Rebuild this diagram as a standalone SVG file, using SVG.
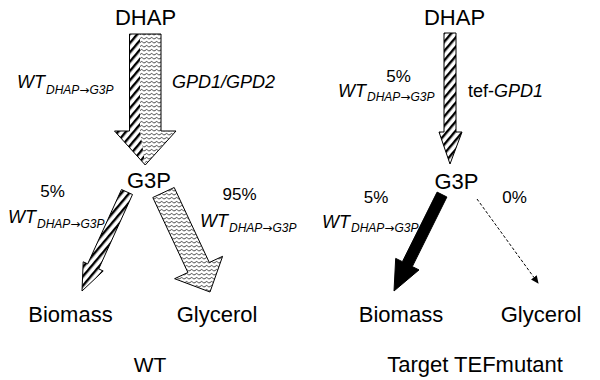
<svg xmlns="http://www.w3.org/2000/svg" width="600" height="380" viewBox="0 0 600 380">
<style>
text{font-family:"Liberation Sans",Arial,sans-serif;fill:#000}
.node{font-size:22px;text-anchor:middle}
.pct{font-size:17px;text-anchor:middle}
.lab{font-size:18px;font-style:italic}
.sub{font-size:12px;font-style:italic}
.arr{font-family:"DejaVu Sans",sans-serif;font-style:normal}
.cap{font-size:21px;text-anchor:middle}
.ol{fill:none;stroke:#000;stroke-width:1}
</style>
<defs>
<pattern id="hatch" width="6" height="6" patternUnits="userSpaceOnUse" patternTransform="rotate(40)">
<rect width="6" height="6" fill="#fff"/>
<rect x="0" y="0" width="2.4" height="6" fill="#000"/>
</pattern>
<pattern id="wave" width="5" height="4" patternUnits="userSpaceOnUse">
<rect width="5" height="4" fill="#fff"/>
<path d="M0 2.7 Q1.25 0.6 2.5 2 T5 2.7" fill="none" stroke="#333" stroke-width="0.9"/>
</pattern>
<marker id="ah" markerWidth="8" markerHeight="8" refX="7" refY="4" orient="auto" markerUnits="userSpaceOnUse">
<path d="M0 0.5 L8 4 L0 7.5 Z" fill="#000"/>
</marker>
</defs>
<g id="connectors">
<g id="wt-dhap-g3p">
<polygon points="129.5,34 161,34 161,131 176,131 145.25,165 114.5,131 129.5,131" fill="url(#wave)"/>
<polygon points="129.5,34 140,34 140,131 145.25,165 114.5,131 129.5,131" fill="url(#hatch)"/>
<polygon class="ol" points="129.5,34 161,34 161,131 176,131 145.25,165 114.5,131 129.5,131"/>
</g>
<polygon id="wt-g3p-biomass" points="132.5,194.5 98.7,268.9 103.2,271 82,291 83.2,261.8 87.7,263.9 121.5,189.5" fill="url(#hatch)" stroke="#000" stroke-width="1"/>
<polygon id="wt-g3p-glycerol" points="174.2,187.5 209.3,262.5 222.6,256.3 210,292 174.6,278.7 187.9,272.5 152.8,197.5" fill="url(#wave)" stroke="#000" stroke-width="1"/>
<polygon id="mut-dhap-g3p" points="444,33 456,33 456,132 462,132 450,164 439,132 444,132" fill="url(#hatch)" stroke="#000" stroke-width="1"/>
<polygon id="mut-g3p-biomass" points="446.9,197 412.3,266.6 419,269.9 394,291 395.7,258.4 402.4,261.7 437.1,192.1" fill="#000" stroke="#000" stroke-width="1"/>
<line id="mut-g3p-glycerol" x1="477" y1="199" x2="538" y2="283" stroke="#000" stroke-width="1" stroke-dasharray="3,2" marker-end="url(#ah)"/>
</g>
<g id="wt-dhap"><text class="node" x="145.5" y="25">DHAP</text></g>
<g id="wt-g3p"><text class="node" x="149" y="188">G3P</text></g>
<g id="wt-biomass"><text class="node" x="70.5" y="322">Biomass</text></g>
<g id="wt-glycerol"><text class="node" x="217" y="322">Glycerol</text></g>
<g id="mut-dhap"><text class="node" x="454.5" y="25">DHAP</text></g>
<g id="mut-g3p"><text class="node" x="456.5" y="189">G3P</text></g>
<g id="mut-biomass"><text class="node" x="401" y="322">Biomass</text></g>
<g id="mut-glycerol"><text class="node" x="541" y="322">Glycerol</text></g>
<g id="labels">
<text class="lab" x="17" y="88">WT<tspan class="sub" dx="1" dy="6">DHAP<tspan class="arr">→</tspan>G3P</tspan></text>
<text class="lab" x="172" y="88">GPD1/GPD2</text>
<text class="pct" x="52.5" y="197">5%</text>
<text class="lab" x="8" y="223">WT<tspan class="sub" dx="1" dy="5">DHAP<tspan class="arr">→</tspan>G3P</tspan></text>
<text class="pct" x="239.5" y="200">95%</text>
<text class="lab" x="200" y="227">WT<tspan class="sub" dx="1" dy="5">DHAP<tspan class="arr">→</tspan>G3P</tspan></text>
<text class="pct" x="398.5" y="82">5%</text>
<text class="lab" x="338" y="97">WT<tspan class="sub" dx="1" dy="4">DHAP<tspan class="arr">→</tspan>G3P</tspan></text>
<text class="lab" x="468" y="97" style="font-style:normal">tef-<tspan style="font-style:italic">GPD1</tspan></text>
<text class="pct" x="376" y="203">5%</text>
<text class="pct" x="514.5" y="203">0%</text>
<text class="lab" x="322" y="228">WT<tspan class="sub" dx="1" dy="4">DHAP<tspan class="arr">→</tspan>G3P</tspan></text>
<text class="cap" x="150" y="372">WT</text>
<text class="cap" x="475" y="372" style="font-size:22px">Target TEFmutant</text>
</g>
</svg>
